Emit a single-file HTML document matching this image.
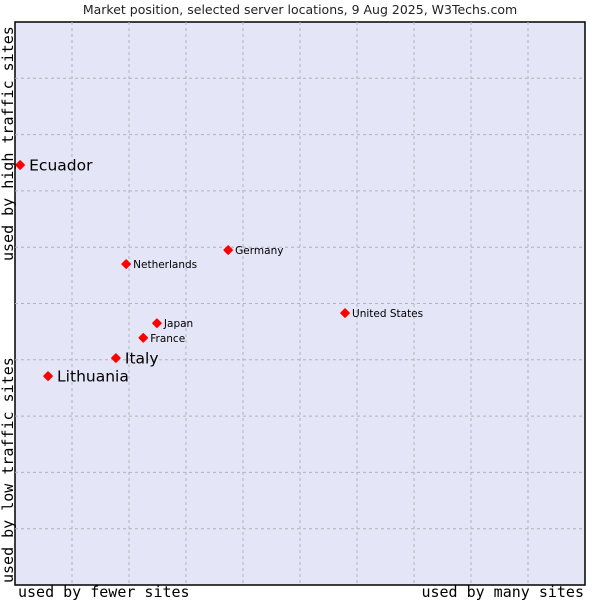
<!DOCTYPE html>
<html><head><meta charset="utf-8"><style>
body{margin:0;background:#fff;}
svg{display:block;}
</style></head><body>
<svg id="chart" width="600" height="600" xmlns="http://www.w3.org/2000/svg">
<text x="300" y="14" text-anchor="middle" font-family="DejaVu Sans, sans-serif" font-size="12.5" fill="#222">Market position, selected server locations, 9 Aug 2025, W3Techs.com</text>
<rect x="15" y="22" width="570" height="563" fill="#e4e5f7" stroke="#000" stroke-width="1.5"/>
<g id="grid"></g>
<text transform="translate(13,583) rotate(-90)" font-family="DejaVu Sans Mono, monospace" font-size="15" fill="#000">used by low traffic sites</text>
<text transform="translate(13,261) rotate(-90)" font-family="DejaVu Sans Mono, monospace" font-size="15" fill="#000">used by high traffic sites</text>
<text x="18" y="597" font-family="DejaVu Sans Mono, monospace" font-size="15" fill="#000">used by fewer sites</text>
<text x="584" y="597" text-anchor="end" font-family="DejaVu Sans Mono, monospace" font-size="15" fill="#000">used by many sites</text>
<g id="points"></g>
</svg>
<script>
const countries = ["Ecuador","Netherlands","Germany","United States","Japan","France","Italy","Lithuania"];
const xValues = [0.9,19.5,37.4,57.9,24.9,22.5,17.7,5.8];
const yValues = [74.6,57.0,59.5,48.3,46.5,43.9,40.3,37.1];
const highlighted = [true,false,false,false,false,false,true,true];
const gridTicks = [10,20,30,40,50,60,70,80,90];

const NS="http://www.w3.org/2000/svg";
const L=15,T=22,W=570,H=563;
function xs(v){return L+v/100*W;}
function ys(v){return T+H-v/100*H;}
const grid=document.getElementById('grid');
gridTicks.forEach(t=>{
  const v=document.createElementNS(NS,'line');
  v.setAttribute('x1',xs(t));v.setAttribute('x2',xs(t));v.setAttribute('y1',T);v.setAttribute('y2',T+H);
  v.setAttribute('stroke','#b4b4b4');v.setAttribute('stroke-dasharray','3,3');
  
  
  grid.appendChild(v);
  const h=document.createElementNS(NS,'line');
  h.setAttribute('y1',ys(t));h.setAttribute('y2',ys(t));h.setAttribute('x1',L);h.setAttribute('x2',L+W);
  h.setAttribute('stroke','#b4b4b4');h.setAttribute('stroke-dasharray','3,3');
  
  
  grid.appendChild(h);
});
const pts=document.getElementById('points');
countries.forEach((c,i)=>{
  const x=xs(xValues[i]),y=ys(yValues[i]);
  const p=document.createElementNS(NS,'path');
  p.setAttribute('d',`M${x-4},${y}L${x},${y-4}L${x+4},${y}L${x},${y+4}Z`);
  p.setAttribute('fill','#ff0000');
  p.setAttribute('stroke','#ff0000');
  p.setAttribute('stroke-width','1.6');
  p.setAttribute('stroke-linejoin','round');
  
  
  pts.appendChild(p);
  const t=document.createElementNS(NS,'text');
  const big=highlighted[i];
  t.setAttribute('x',x+(big?9:7));t.setAttribute('y',y+(big?5.5:4));
  t.setAttribute('font-family','DejaVu Sans, sans-serif');
  t.setAttribute('font-size',big?'15.5':'10.5');
  t.setAttribute('fill','#000');
  t.textContent=c;
  
  
  pts.appendChild(t);
});
</script>
</body></html>
